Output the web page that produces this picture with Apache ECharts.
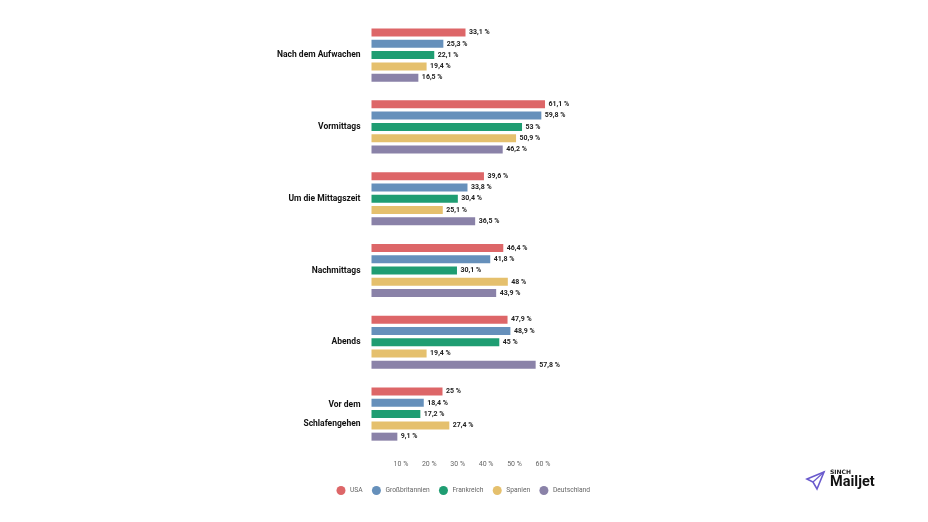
<!DOCTYPE html>
<html><head><meta charset="utf-8">
<style>html,body{margin:0;padding:0;background:#fff}#c{width:928px;height:522px}</style>
<script src="https://cdn.jsdelivr.net/npm/echarts@6/dist/echarts.min.js"></script></head>
<body><div id="c"></div>
<script>
const categories = ['Nach dem Aufwachen','Vormittags','Um die Mittagszeit','Nachmittags','Abends','Vor dem\nSchlafengehen'];
const tickLabels = {10:'10 %',20:'20 %',30:'30 %',40:'40 %',50:'50 %',60:'60 %'};
const usa = [33.1,61.1,39.6,46.4,47.9,25];
const grossbritannien = [25.3,59.8,33.8,41.8,48.9,18.4];
const frankreich = [22.1,53,30.4,30.1,45,17.2];
const spanien = [19.4,50.9,25.1,48,19.4,27.4];
const deutschland = [16.5,46.2,36.5,43.9,57.8,9.1];
const names = ['USA','Großbritannien','Frankreich','Spanien','Deutschland'];
const colors = ['#dd6668','#6690bb','#1f9d72','#e5c06d','#8a82a8'];
const values = [usa,grossbritannien,frankreich,spanien,deutschland];
const font = 'Roboto';
const chart = echarts.init(document.getElementById('c'),null,{renderer:'canvas'});
chart.setOption({
  animation:false,
  backgroundColor:'#fff',
  grid:{left:371.5,top:19.2,width:198.8,height:430.8,containLabel:false},
  legend:{
    left:331.5,top:481,itemWidth:9,itemHeight:9,itemGap:9.25,icon:'circle',
    textStyle:{fontFamily:font,fontSize:6.7,color:'#666',padding:[0,0,0,-0.5]},
    data:names
  },
  xAxis:{type:'value',min:0,max:70,interval:10,
    axisLine:{show:false},axisTick:{show:false},splitLine:{show:false},
    axisLabel:{margin:11,fontFamily:font,fontSize:7,color:'#666',padding:[0,0,0,2],
      formatter:v=>tickLabels[v]||''}},
  yAxis:{type:'category',inverse:true,data:categories,
    axisLine:{show:false},axisTick:{show:false},
    axisLabel:{margin:11,fontFamily:font,fontSize:8.5,fontWeight:'bold',color:'#111',lineHeight:19,align:'right'}},
  series:names.map((n,i)=>({
    name:n,type:'bar',data:values[i],barWidth:8,barGap:'41%',barCategoryGap:'26%',
    itemStyle:{color:colors[i]},
    label:{show:true,position:'right',distance:3.5,fontFamily:font,fontSize:7,fontWeight:'bold',color:'#222',
      formatter:p=>String(p.value).replace('.',',')+' %'}
  })),
  graphic:[
    {type:'polygon',shape:{points:[[807,479],[824,472],[817,489],[813,482]]},
     style:{fill:'none',stroke:'#6a5acd',lineWidth:1.6}},
    {type:'line',shape:{x1:813,y1:482,x2:824,y2:472},style:{stroke:'#6a5acd',lineWidth:1.2}},
    {type:'text',x:830,y:469.5,style:{text:'SINCH',fontFamily:'DejaVu Sans',fontSize:6,fontWeight:'bold',fill:'#222'}},
    {type:'text',x:830,y:475,style:{text:'Mailjet',fontFamily:font,fontSize:14.5,fontWeight:'bold',fill:'#111'}}
  ]
});
</script></body></html>
